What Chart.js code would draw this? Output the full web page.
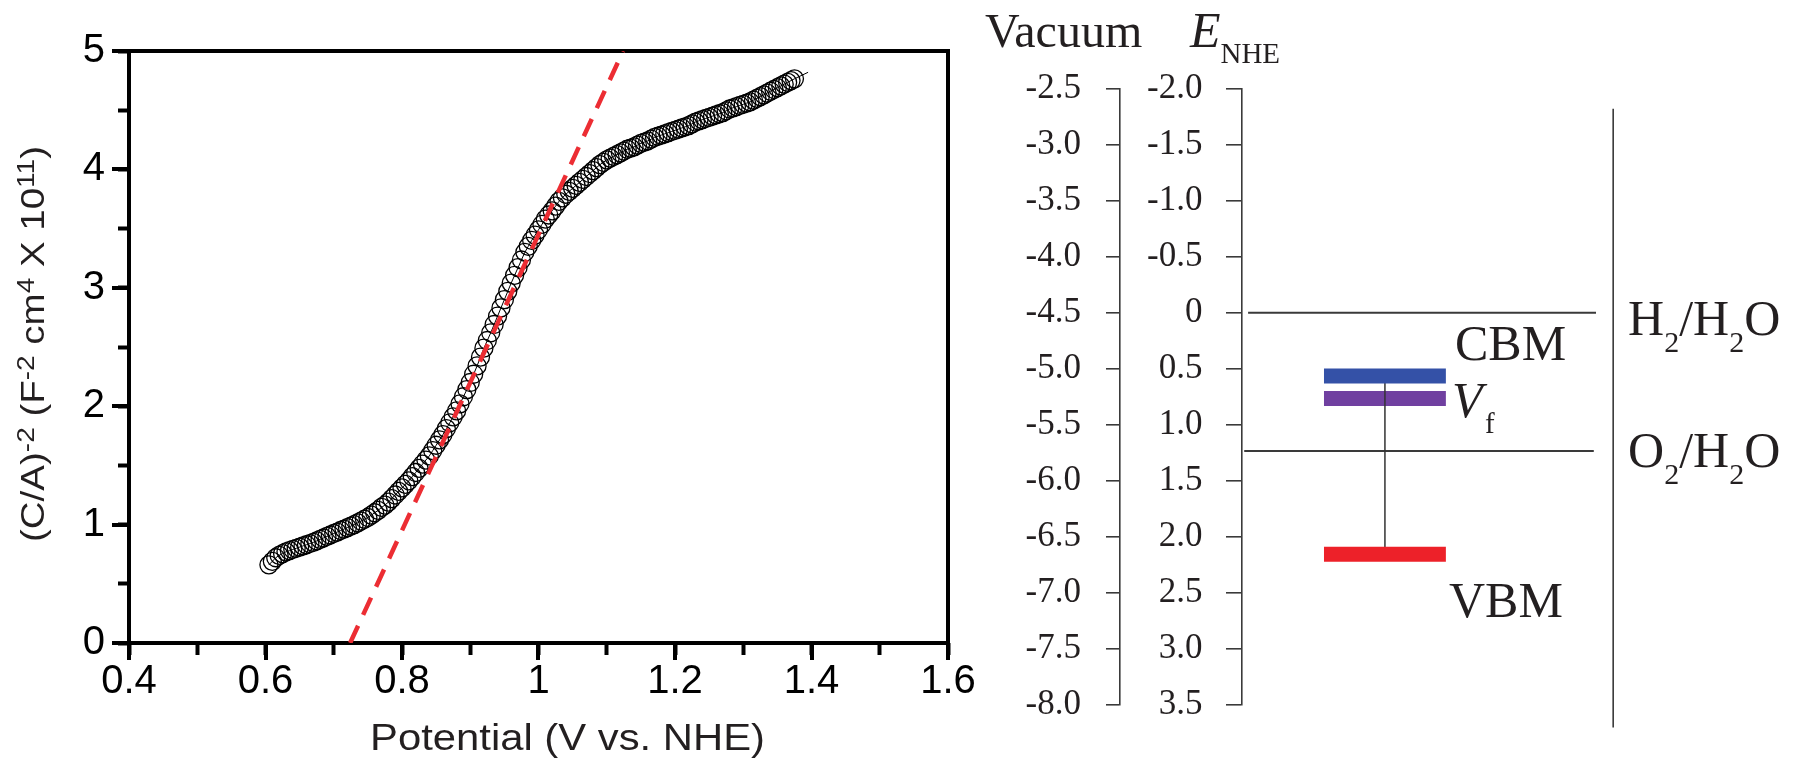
<!DOCTYPE html>
<html>
<head>
<meta charset="utf-8">
<script src="https://cdn.jsdelivr.net/npm/chart.js@4.4.1/dist/chart.umd.min.js"></script>
<style>
  html, body { margin: 0; padding: 0; background: #fff; overflow: hidden; }
  #wrap { position: relative; width: 1796px; height: 762px; }
  #mottSchottky { position: absolute; left: 0; top: 0; }
  #bandDiagram { position: absolute; left: 960px; top: 0; }
</style>
</head>
<body>
<div id="wrap">
  <canvas id="mottSchottky" width="1000" height="762"></canvas>
  <canvas id="bandDiagram" width="836" height="762"></canvas>
</div>
<script>
// Mott-Schottky data (V vs. NHE, (C/A)^-2 in 1e11 F^-2 cm^4)
const potential = [
  0.605, 0.610, 0.615, 0.620, 0.625, 0.630, 0.635, 0.640, 0.645, 0.650,
  0.655, 0.660, 0.665, 0.670, 0.675, 0.680, 0.685, 0.690, 0.695, 0.700,
  0.705, 0.710, 0.715, 0.720, 0.725, 0.730, 0.735, 0.740, 0.745, 0.750,
  0.755, 0.760, 0.765, 0.770, 0.775, 0.780, 0.785, 0.790, 0.795, 0.800,
  0.805, 0.810, 0.815, 0.820, 0.825, 0.830, 0.835, 0.840, 0.845, 0.850,
  0.855, 0.860, 0.865, 0.870, 0.875, 0.880, 0.885, 0.890, 0.895, 0.900,
  0.905, 0.910, 0.915, 0.920, 0.925, 0.930, 0.935, 0.940, 0.945, 0.950,
  0.955, 0.960, 0.965, 0.970, 0.975, 0.980, 0.985, 0.990, 0.995, 1.000,
  1.005, 1.010, 1.015, 1.020, 1.025, 1.030, 1.035, 1.040, 1.045, 1.050,
  1.055, 1.060, 1.065, 1.070, 1.075, 1.080, 1.085, 1.090, 1.095, 1.100,
  1.105, 1.110, 1.115, 1.120, 1.125, 1.130, 1.135, 1.140, 1.145, 1.150,
  1.155, 1.160, 1.165, 1.170, 1.175, 1.180, 1.185, 1.190, 1.195, 1.200,
  1.205, 1.210, 1.215, 1.220, 1.225, 1.230, 1.235, 1.240, 1.245, 1.250,
  1.255, 1.260, 1.265, 1.270, 1.275, 1.280, 1.285, 1.290, 1.295, 1.300,
  1.305, 1.310, 1.315, 1.320, 1.325, 1.330, 1.335, 1.340, 1.345, 1.350,
  1.355, 1.360, 1.365, 1.370, 1.375, 1.395
];
const invCapSq = [
  0.66, 0.69, 0.72, 0.74, 0.755, 0.77, 0.78, 0.79, 0.80, 0.81,
  0.82, 0.83, 0.84, 0.85, 0.862, 0.875, 0.887, 0.90, 0.912, 0.925,
  0.937, 0.95, 0.962, 0.975, 0.987, 1.00, 1.015, 1.03, 1.045, 1.06,
  1.08, 1.10, 1.12, 1.145, 1.165, 1.19, 1.22, 1.25, 1.28, 1.31,
  1.34, 1.37, 1.405, 1.44, 1.475, 1.51, 1.545, 1.58, 1.625, 1.67,
  1.715, 1.76, 1.81, 1.86, 1.91, 1.96, 2.02, 2.08, 2.14, 2.20,
  2.27, 2.34, 2.415, 2.49, 2.555, 2.62, 2.69, 2.76, 2.83, 2.90,
  2.97, 3.04, 3.105, 3.17, 3.235, 3.30, 3.35, 3.40, 3.445, 3.49,
  3.535, 3.58, 3.615, 3.65, 3.69, 3.73, 3.76, 3.79, 3.815, 3.84,
  3.865, 3.89, 3.915, 3.94, 3.965, 3.99, 4.015, 4.04, 4.06, 4.08,
  4.095, 4.11, 4.125, 4.14, 4.155, 4.17, 4.18, 4.19, 4.205, 4.22,
  4.23, 4.24, 4.255, 4.27, 4.28, 4.29, 4.30, 4.31, 4.32, 4.33,
  4.34, 4.35, 4.36, 4.37, 4.385, 4.40, 4.41, 4.42, 4.43, 4.44,
  4.45, 4.46, 4.47, 4.48, 4.495, 4.51, 4.52, 4.53, 4.54, 4.55,
  4.56, 4.57, 4.585, 4.60, 4.615, 4.63, 4.645, 4.66, 4.675, 4.69,
  4.705, 4.72, 4.735, 4.75, 4.765, 4.82
];
// linear fit (flat band potential intercept)
const fitPotential = [0.724, 1.124];
const fitInvCapSq = [0, 5];
const xTickLabels = ['0.4', '0.6', '0.8', '1', '1.2', '1.4', '1.6'];
const yTickLabels = ['0', '1', '2', '3', '4', '5'];

// band diagram (V vs. NHE)
const vacuumTickLabels = ['-8.0', '-7.5', '-7.0', '-6.5', '-6.0', '-5.5', '-5.0', '-4.5', '-4.0', '-3.5', '-3.0', '-2.5'];
const nheTickLabels = ['-2.0', '-1.5', '-1.0', '-0.5', '0', '0.5', '1.0', '1.5', '2.0', '2.5', '3.0', '3.5'];
const bandLevels = [0.565, 0.765, 2.155];   // CBM, Vf, VBM
const redoxLevels = [0, 1.234];             // H2/H2O, O2/H2O

const sans = '"Liberation Sans", Arial, sans-serif';
const serif = '"Liberation Serif", "Times New Roman", serif';

Chart.defaults.font.family = sans;
Chart.defaults.color = '#000';
Chart.defaults.animation = false;
Chart.defaults.plugins.legend.display = false;
Chart.defaults.plugins.tooltip.enabled = false;

const fixWidth = w => scale => { scale.width = w; };
const fixHeight = h => scale => { scale.height = h; };

function runsWidth(ctx, runs, family) {
    let w = 0;
    runs.forEach(([text, size]) => {
        ctx.font = size + 'px ' + family;
        w += ctx.measureText(text).width;
    });
    return w;
}

// titles in the source are a bit wider than Arial, so they are stretched to length
function drawStretched(ctx, runs, cx, cy, length, angle) {
    const w = runsWidth(ctx, runs, sans);
    ctx.save();
    ctx.translate(cx, cy);
    ctx.rotate(angle);
    ctx.scale(length / w, 1);
    let px = -w / 2;
    runs.forEach(([text, size, dy]) => {
        ctx.font = size + 'px ' + sans;
        ctx.fillText(text, px, dy);
        px += ctx.measureText(text).width;
    });
    ctx.restore();
}

const axisTitles = {
    id: 'axisTitles',
    afterDraw(chart) {
        const {ctx, chartArea} = chart;
        ctx.save();
        ctx.fillStyle = '#231f20';
        ctx.textBaseline = 'alphabetic';
        drawStretched(ctx, [['Potential (V vs. NHE)', 36, 0]],
            (chartArea.left + chartArea.right) / 2 + 29, chart.height - 12, 395, 0);
        drawStretched(ctx, [
            ['(C/A)', 33, 0], ['-2', 24, -10], [' (F', 33, 0], ['-2', 24, -10],
            [' cm', 33, 0], ['4', 24, -10], [' X 10', 33, 0], ['11', 24, -10], [')', 33, 0]
        ], 44, (chartArea.top + chartArea.bottom) / 2 - 3, 396, -Math.PI / 2);
        ctx.restore();
    }
};

const majorGrid = {drawOnChartArea: false, tickLength: 17, tickWidth: 4, tickColor: '#000', lineWidth: 4};
const frameBorder = {width: 4, color: '#000'};

new Chart(document.getElementById('mottSchottky'), {
    type: 'scatter',
    data: {
        datasets: [{
            label: 'Fit',
            data: fitPotential.map((x, i) => ({x, y: fitInvCapSq[i]})),
            showLine: true,
            borderColor: '#ec2d33',
            borderWidth: 4.5,
            borderDash: [19, 12],
            pointRadius: 0,
            order: 0
        }, {
            label: 'Mott-Schottky',
            data: potential.map((x, i) => ({x, y: invCapSq[i]})),
            showLine: true,
            borderColor: '#000',
            borderWidth: 1,
            pointRadius: ctx => ctx.dataIndex === potential.length - 1 ? 0 : 9,
            pointBorderWidth: 1.3,
            pointBorderColor: '#000',
            pointBackgroundColor: 'rgba(0,0,0,0)',
            order: 1
        }]
    },
    options: {
        responsive: false,
        layout: {padding: {top: 51, right: 52, left: 0, bottom: 0}},
        scales: {
            x: {
                type: 'linear', position: 'bottom', weight: 1, min: 0.4, max: 1.6,
                ticks: {
                    stepSize: 0.2, padding: 2, maxRotation: 0, autoSkip: false,
                    font: {size: 40, lineHeight: 1}, color: '#000',
                    callback: (v, i) => xTickLabels[i]
                },
                grid: majorGrid, border: frameBorder,
                afterFit: fixHeight(119)
            },
            xMinor: {
                type: 'linear', position: 'bottom', weight: 0, min: 0.4, max: 1.6,
                ticks: {stepSize: 0.1, display: false},
                grid: {drawOnChartArea: false, tickLength: 12, tickWidth: 4, tickColor: '#000'},
                border: {display: false},
                afterFit: fixHeight(0)
            },
            xTop: {
                type: 'linear', position: 'top', min: 0.4, max: 1.6,
                ticks: {display: false},
                grid: {display: false, drawTicks: false, lineWidth: 4},
                border: frameBorder,
                afterFit: fixHeight(0)
            },
            y: {
                type: 'linear', position: 'left', weight: 1, min: 0, max: 5,
                ticks: {
                    stepSize: 1, padding: 7, autoSkip: false,
                    font: {size: 40, lineHeight: 1}, color: '#000',
                    callback: (v, i) => yTickLabels[i]
                },
                grid: majorGrid, border: frameBorder,
                afterFit: fixWidth(129)
            },
            yMinor: {
                type: 'linear', position: 'left', weight: 0, min: 0, max: 5,
                ticks: {stepSize: 0.5, display: false},
                grid: {drawOnChartArea: false, tickLength: 11, tickWidth: 4, tickColor: '#000'},
                border: {display: false},
                afterFit: fixWidth(0)
            },
            yRight: {
                type: 'linear', position: 'right', min: 0, max: 5,
                ticks: {display: false},
                grid: {display: false, drawTicks: false, lineWidth: 4},
                border: frameBorder,
                afterFit: fixWidth(0)
            }
        }
    },
    plugins: [axisTitles]
});

// ---- band diagram ----
// x runs 0..10 across the diagram area, only used to place the schematic parts
const bandColors = ['#3451a7', '#7040a0', '#ed2129'];
const bandSpan = [1.48, 3.68];
const redoxSpans = [[0.11, 6.39], [0.04, 6.35]];
const connectorX = 2.58;
const separator = {x: 6.70, from: -1.82, to: 3.70};
const diagramLabels = [
    {x: -4.64, y: -2.373, runs: [['Vacuum', 48, 0]]},
    {x: -0.94, y: -2.37, runs: [['E', 50, 0, true], ['NHE', 29, 16]]},
    {x: 3.845, y: 0.422, runs: [['CBM', 50, 0]]},
    {x: 3.79, y: 0.931, runs: [['V', 50, 0, true]]},
    {x: 4.386, y: 1.074, runs: [['f', 29, 0]]},
    {x: 3.736, y: 2.715, runs: [['VBM', 50, 0]]},
    {x: 6.968, y: 0.199, runs: [['H', 50, 0], ['2', 30, 16.7], ['/H', 50, 0], ['2', 30, 16.7], ['O', 50, 0]]},
    {x: 6.968, y: 1.379, runs: [['O', 50, 0], ['2', 30, 16.7], ['/H', 50, 0], ['2', 30, 16.7], ['O', 50, 0]]}
];

const diagramText = {
    id: 'diagramText',
    afterDatasetsDraw(chart) {
        const {ctx, scales: {x, yN}} = chart;
        ctx.save();
        ctx.fillStyle = '#231f20';
        ctx.textBaseline = 'alphabetic';
        diagramLabels.forEach(lab => {
            let px = x.getPixelForValue(lab.x);
            const py = yN.getPixelForValue(lab.y);
            lab.runs.forEach(([text, size, dy, italic]) => {
                ctx.font = (italic ? 'italic ' : '') + size + 'px ' + serif;
                ctx.fillText(text, px, py + dy);
                px += ctx.measureText(text).width;
            });
        });
        ctx.restore();
    }
};

const segment = (pts, color, width, order, extra) => Object.assign({
    data: pts, showLine: true, borderColor: color, borderWidth: width,
    borderCapStyle: 'butt', pointRadius: 0, yAxisID: 'yN', xAxisID: 'x', order
}, extra || {});

const diagramSets = [];
redoxLevels.forEach((lv, i) => {
    diagramSets.push(segment([{x: redoxSpans[i][0], y: lv}, {x: redoxSpans[i][1], y: lv}], '#3a3a3a', 2, 3));
});
diagramSets.push(segment([{x: separator.x, y: separator.from}, {x: separator.x, y: separator.to}], '#3a3a3a', 1.6, 3, {clip: false}));
bandLevels.forEach((lv, i) => {
    diagramSets.push(segment([{x: bandSpan[0], y: lv}, {x: bandSpan[1], y: lv}], bandColors[i], 15, i === 1 ? 2 : 0));
});
diagramSets.push(segment([{x: connectorX, y: bandLevels[0]}, {x: connectorX, y: bandLevels[2]}], '#333', 1.5, 1));

const serifTicks = {size: 35, family: serif};
// pick the label by tick value, the NHE scale is reversed
const labelFor = (labels, min, step) => v => labels[Math.round((v - min) / step)];

new Chart(document.getElementById('bandDiagram'), {
    type: 'scatter',
    data: {datasets: diagramSets},
    options: {
        responsive: false,
        layout: {padding: {top: 88.5, bottom: 57, left: 0, right: 0}},
        scales: {
            x: {type: 'linear', display: false, min: 0, max: 10},
            yN: {
                type: 'linear', position: 'left', weight: 0, reverse: true, min: -2, max: 3.5,
                ticks: {
                    stepSize: 0.5, padding: 23.5, autoSkip: false, font: serifTicks, color: '#231f20',
                    callback: labelFor(nheTickLabels, -2, 0.5)
                },
                grid: {drawOnChartArea: false, tickLength: 16, tickWidth: 1.6, tickColor: '#3a3a3a', lineWidth: 1.6},
                border: {width: 1.6, color: '#3a3a3a'},
                afterFit: fixWidth(122)
            },
            yV: {
                type: 'linear', position: 'left', weight: 1, min: -8, max: -2.5,
                ticks: {
                    stepSize: 0.5, padding: 25, autoSkip: false, font: serifTicks, color: '#231f20',
                    callback: labelFor(vacuumTickLabels, -8, 0.5)
                },
                grid: {drawOnChartArea: false, tickLength: 14, tickWidth: 1.6, tickColor: '#3a3a3a', lineWidth: 1.6},
                border: {width: 1.6, color: '#3a3a3a'},
                afterFit: fixWidth(160)
            }
        }
    },
    plugins: [diagramText]
});
</script>
</body>
</html>
